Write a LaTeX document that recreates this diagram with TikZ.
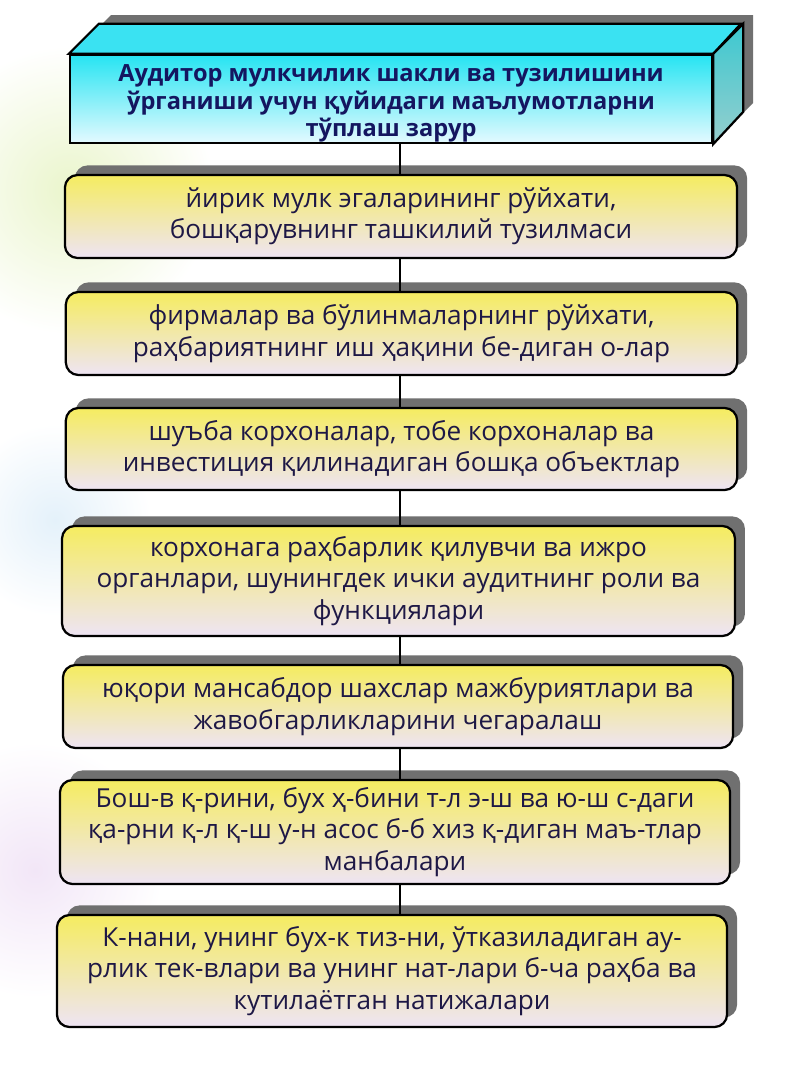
\documentclass[tikz,border=0pt]{standalone}
\usepackage{fontspec}
\setmainfont{Open Sans}
\usetikzlibrary{shadows,calc}

\definecolor{boxtop}{RGB}{245,236,96}
\definecolor{boxbot}{RGB}{238,228,244}
\definecolor{ink}{RGB}{30,24,70}
\definecolor{headink}{RGB}{20,22,96}
\definecolor{cyantop}{RGB}{38,228,242}
\definecolor{cyanbot}{RGB}{228,250,255}
\definecolor{cyanlid}{RGB}{58,226,242}
\definecolor{sidetop}{RGB}{60,200,208}
\definecolor{sidebot}{RGB}{150,206,206}
\definecolor{shadowgray}{RGB}{112,112,112}
\definecolor{blobgreen}{RGB}{234,245,204}
\definecolor{blobblue}{RGB}{228,241,250}
\definecolor{bloblilac}{RGB}{242,230,247}

\tikzset{
  infobox/.style={draw=black, line width=1.6pt, rounded corners=9pt,
    top color=boxtop, bottom color=boxbot, text=ink, align=center,
    font=\fontsize{18.6}{22.4}\selectfont, inner sep=0pt,
    drop shadow={shadow xshift=0.25cm, shadow yshift=0.24cm, fill=shadowgray, opacity=1}},
  link/.style={line width=1.6pt, black},
}

\begin{document}
\begin{tikzpicture}[x=0.025cm,y=-0.025cm]
\useasboundingbox (0,0) rectangle (800,1066);
\fill[white] (0,0) rectangle (800,1066);

% faint blobs on the left
\shade[inner color=blobgreen, outer color=white] (70,190) circle (3.6cm);
\shade[inner color=blobblue, outer color=white] (55,520) circle (2.4cm);
\shade[inner color=bloblilac, outer color=white] (35,870) circle (3.2cm);

% box on top
\fill[shadowgray] (81,45) -- (111,15) -- (753,15) -- (753,103) -- (723,133) -- (81,133) -- cycle;
\node[draw=black, line width=1.6pt, top color=cyantop, bottom color=cyanbot,
  minimum width=16.05cm, minimum height=2.2cm, inner sep=0pt, align=center,
  text=headink, font=\bfseries\fontsize{16.8}{19.6}\selectfont] (head) at (391,99)
  {\rule{0pt}{0pt}\\[-1pt]Аудитор мулкчилик шакли ва тузилишини\\ ўрганиши учун қуйидаги маълумотларни\\ тўплаш зарур};
\draw[line width=1.6pt, fill=cyanlid] (head.north west) -- ++(30,-30) -- ++(642,0) -- (head.north east) -- cycle;
\draw[line width=1.6pt, top color=sidetop, bottom color=sidebot] (head.north east) -- ++(30,-30) -- ++(0,88) -- (head.south east) -- cycle;

% list of boxes
\node[infobox, minimum width=16.8cm, minimum height=2.075cm] (owners) at (401,216.5)
  {йирик мулк эгаларининг рўйхати,\\ бошқарувнинг ташкилий тузилмаси};
\node[infobox, minimum width=16.78cm, minimum height=2.075cm] (firms) at (401.5,333.5)
  {фирмалар ва бўлинмаларнинг рўйхати,\\ раҳбариятнинг иш ҳақини бе-диган о-лар};
\node[infobox, minimum width=16.78cm, minimum height=2.05cm] (branches) at (401.5,449)
  {шуъба корхоналар, тобе корхоналар ва\\ инвестиция қилинадиган бошқа объектлар};
\node[infobox, minimum width=16.82cm, minimum height=2.75cm] (governance) at (398.5,581)
  {корхонага раҳбарлик қилувчи ва ижро\\ органлари, шунингдек ички аудитнинг роли ва\\ функциялари};
\node[infobox, minimum width=16.75cm, minimum height=2.075cm] (duties) at (398,706.5)
  {юқори мансабдор шахслар мажбуриятлари ва\\ жавобгарликларини чегаралаш};
\node[infobox, minimum width=16.75cm, minimum height=2.6cm] (sources) at (395,832)
  {Бош-в қ-рини, бух ҳ-бини т-л э-ш ва ю-ш с-даги\\ қа-рни қ-л қ-ш у-н асос б-б хиз қ-диган маъ-тлар\\ манбалари};
\node[infobox, minimum width=16.75cm, minimum height=2.8cm] (results) at (392,971)
  {К-нани, унинг бух-к тиз-ни, ўтказиладиган ау-\\ рлик тек-влари ва унинг нат-лари б-ча раҳба ва\\ кутилаётган натижалари};

% connectors
\coordinate (spine) at (400,0);
\foreach \a/\b in {head/owners,owners/firms,firms/branches,branches/governance,governance/duties,duties/sources,sources/results}
  \draw[link] (\a.south -| spine) -- (\b.north -| spine);
\end{tikzpicture}
\end{document}
